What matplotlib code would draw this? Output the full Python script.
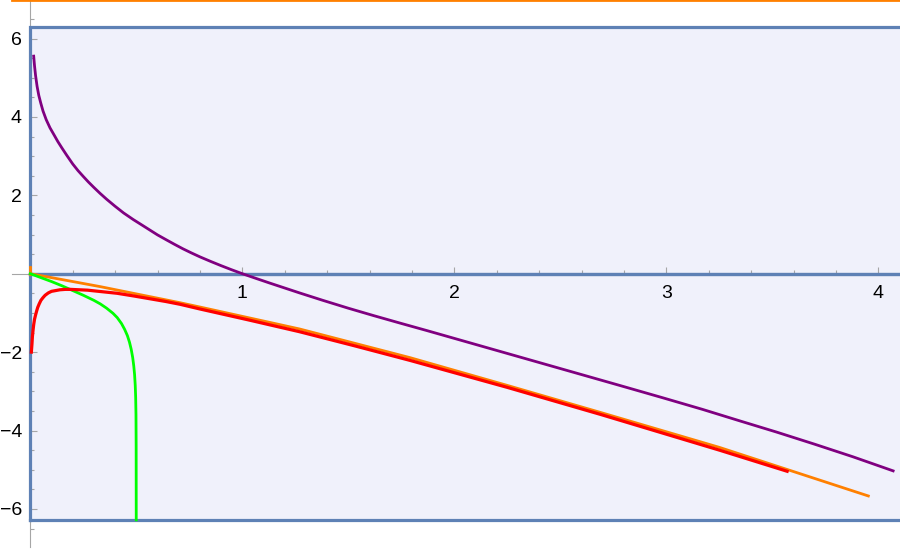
import numpy as np
import matplotlib
matplotlib.use("Agg")
import matplotlib.pyplot as plt
from matplotlib.ticker import FixedLocator

plt.rcParams['font.family'] = ['Liberation Sans', 'DejaVu Sans']

# ---- data ----
purple_x = [0.016, 0.020, 0.025, 0.032, 0.040, 0.049, 0.060, 0.075, 0.093, 0.110, 0.130,
            0.150, 0.172, 0.20, 0.225, 0.25, 0.274, 0.30, 0.329, 0.36, 0.40, 0.44, 0.486,
            0.53, 0.565, 0.60, 0.643, 0.68, 0.72, 0.76, 0.80, 0.85, 0.90, 0.95, 1.0,
            1.07, 1.13, 1.20, 1.27, 1.38, 1.50, 1.62, 1.744, 1.87, 2.0, 2.13, 2.26,
            2.39, 2.52, 2.65, 2.78, 2.98, 3.17, 3.35, 3.52, 3.70, 3.88, 4.07]
purple_y = [5.55, 5.30, 5.05, 4.78, 4.55, 4.36, 4.15, 3.93, 3.72, 3.56, 3.37,
            3.20, 3.02, 2.80, 2.63, 2.48, 2.34, 2.20, 2.05, 1.90, 1.72, 1.55, 1.38,
            1.23, 1.11, 0.99, 0.86, 0.75, 0.635, 0.53, 0.43, 0.315, 0.205, 0.10, 0.0,
            -0.13, -0.24, -0.365, -0.49, -0.68, -0.88, -1.07, -1.26, -1.45, -1.65, -1.85, -2.05,
            -2.25, -2.45, -2.65, -2.85, -3.16, -3.46, -3.76, -4.04, -4.35, -4.67, -5.03]

orange_x = [0.0, 0.33, 0.706, 0.80, 1.27, 1.79, 2.25, 2.69, 3.25, 3.953]
orange_y = [0.0, -0.33, -0.74, -0.85, -1.41, -2.14, -2.85, -3.54, -4.43, -5.67]
orange_stub_x = [0.0, 0.0]
orange_stub_y = [0.0, 0.18]
orange_top_x = [-0.085, 4.2]
orange_top_y = [6.97, 6.97]

red_x = [0.005, 0.008, 0.010, 0.013, 0.016, 0.020, 0.025, 0.030, 0.035, 0.042, 0.05,
         0.06, 0.07, 0.085, 0.10, 0.12, 0.14, 0.165, 0.19, 0.23, 0.27, 0.34, 0.41,
         0.49, 0.565, 0.64, 0.706, 0.80, 1.03, 1.27, 1.53, 1.79, 2.25, 2.69, 3.25, 3.57]
red_y = [-2.0, -1.78, -1.6, -1.44, -1.3, -1.16, -1.05, -0.95, -0.86, -0.77, -0.68,
         -0.61, -0.55, -0.49, -0.45, -0.43, -0.41, -0.40, -0.40, -0.41, -0.42, -0.46, -0.50,
         -0.57, -0.64, -0.71, -0.78, -0.90, -1.18, -1.48, -1.84, -2.21, -2.90, -3.59, -4.50, -5.04]

green_x = [0.0, 0.05, 0.10, 0.15, 0.20, 0.25, 0.30, 0.33, 0.36, 0.39, 0.41, 0.43, 0.445,
           0.458, 0.468, 0.476, 0.483, 0.488, 0.492, 0.495, 0.497, 0.4985, 0.4993, 0.4997]
green_y = [0.0, -0.10, -0.20, -0.31, -0.43, -0.55, -0.68, -0.77, -0.88, -1.01, -1.12, -1.27,
           -1.42, -1.58, -1.75, -1.93, -2.14, -2.35, -2.58, -2.85, -3.15, -3.6, -4.4, -6.28]

region_x = [0.0, 4.3]
region_y = [-2 * np.pi, 0.0, 2 * np.pi]

x_major = [1, 2, 3, 4]
x_minor = [v / 5 for v in range(1, 21) if v % 5 != 0]
y_major = [-6, -4, -2, 2, 4, 6]
y_minor = [v / 2 for v in range(-13, 14) if v % 4 != 0]

# ---- colours ----
region_edge = '#5E81B5'
region_fill = '#F0F1FB'
axis_gray = '#A6A6A6'

fig = plt.figure(figsize=(9, 5.5), dpi=100)
ax = fig.add_axes([0, 0, 1, 1])
ax.set_xlim(-30.3 / 212, (900 - 30.3) / 212)
ax.set_ylim(-(550 - 273.7) / 39.2, 273.7 / 39.2)
ax.patch.set_visible(False)

# regions (fills + borders)
for lo, hi in zip(region_y[:-1], region_y[1:]):
    ax.fill_between(region_x, lo, hi, color=region_fill, lw=0, zorder=0.5)
    ax.plot([region_x[0], region_x[1], region_x[1], region_x[0], region_x[0]],
            [lo, lo, hi, hi, lo], color=region_edge, lw=2.3, zorder=3,
            solid_joinstyle='miter', clip_on=True)

# curves
ax.plot(purple_x, purple_y, color='#800080', lw=2.0, zorder=5)
ax.plot(orange_x, orange_y, color='#FF8000', lw=2.0, zorder=5)
ax.plot(orange_stub_x, orange_stub_y, color='#FF8000', lw=2.0, zorder=5)
ax.plot(orange_top_x, orange_top_y, color='#FF8000', lw=2.0, zorder=5)
ax.plot(green_x, green_y, color='#00FF00', lw=2.0, zorder=5)
ax.plot(red_x, red_y, color='#FF0000', lw=2.3, zorder=6)

# axes through origin
for s in ['top', 'right']:
    ax.spines[s].set_visible(False)
ax.spines['left'].set_position(('data', 0))
ax.spines['bottom'].set_position(('data', 0))
ax.spines['left'].set_bounds(-6.98, 7.2)
ax.spines['bottom'].set_bounds(-0.085, 4.3)
for s in ['left', 'bottom']:
    ax.spines[s].set_color(axis_gray)
    ax.spines[s].set_linewidth(0.8)

ax.xaxis.set_major_locator(FixedLocator(x_major))
ax.xaxis.set_minor_locator(FixedLocator(x_minor))
ax.yaxis.set_major_locator(FixedLocator(y_major))
ax.yaxis.set_minor_locator(FixedLocator(y_minor))
ax.set_xticklabels([str(v) for v in x_major])
ax.set_yticklabels(['\u2212' + str(-v) if v < 0 else str(v) for v in y_major])

ax.tick_params(which='both', direction='in', color=axis_gray, width=0.8)
ax.tick_params(which='major', length=5)
ax.tick_params(which='minor', length=3)
ax.tick_params(axis='x', which='major', pad=8, labelsize=14)
ax.tick_params(axis='y', which='major', pad=6, labelsize=14)

fig.savefig('out.png', dpi=100)
